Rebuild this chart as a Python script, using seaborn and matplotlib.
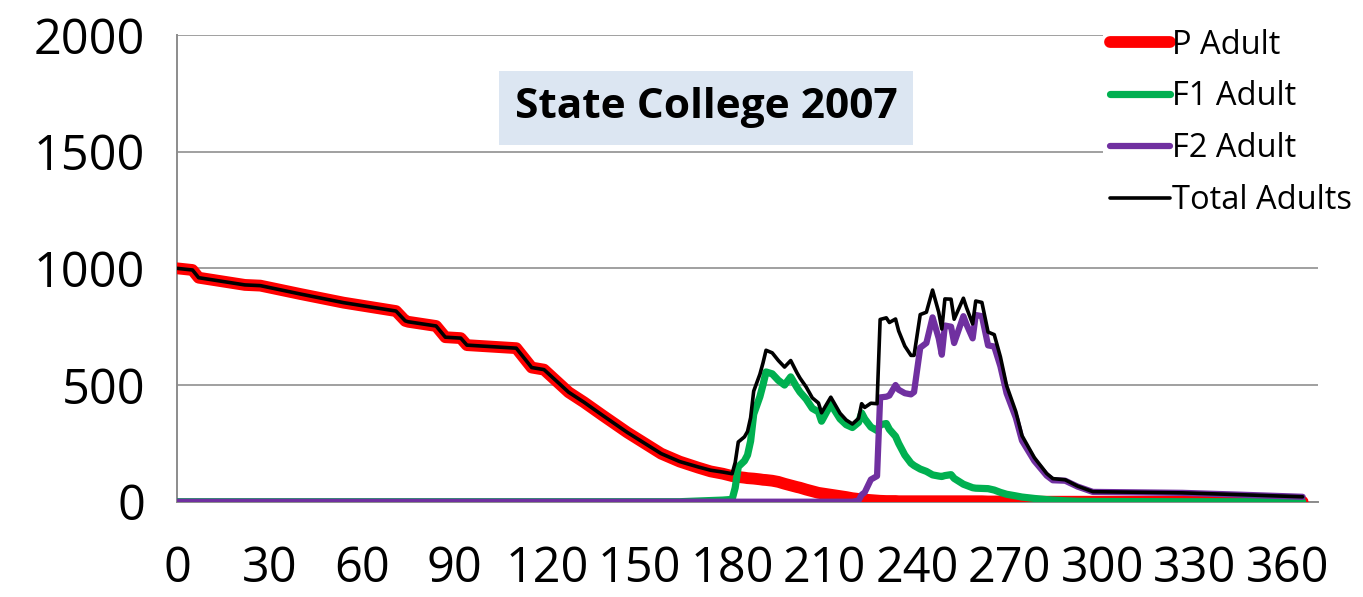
import seaborn as sns
import matplotlib.pyplot as plt
import pandas as pd
import numpy as np

# Day of year and adult counts
days = [0, 5, 7, 22, 27, 40, 54, 71, 74, 75, 84, 87, 92, 94, 110, 115, 119,
        127, 132, 138, 146, 157, 163, 169, 173, 177, 180, 181, 182, 184, 185,
        186, 187, 189, 190, 191, 193, 195, 197, 199, 201, 202, 204, 206, 208,
        209, 212, 215, 217, 219, 221, 222, 223, 225, 227, 228, 230, 231, 233,
        234, 236, 238, 239, 241, 243, 245, 247, 248, 249, 251, 252, 255, 256,
        258, 259, 261, 263, 265, 267, 269, 272, 274, 278, 282, 284, 288, 292,
        297, 326, 345, 365]

p_adult = [1000, 993, 960, 929, 926, 890, 853, 817, 775, 771, 753, 705, 701,
           671, 658, 575, 566, 469, 426, 370, 297, 206, 172, 146, 130, 120,
           110, 108, 106, 103, 101, 100, 99, 96, 94, 93, 90, 85, 77, 70, 63,
           60, 52, 45, 38, 36, 30, 24, 20, 15, 12, 10, 9, 7, 5, 4, 3, 3, 3,
           2, 2, 2, 2, 2, 2, 2, 2, 2, 2, 2, 2, 2, 2, 2, 2, 2, 1, 1, 1, 1, 1,
           1, 0, 0, 0, 0, 0, 0, 0, 0, 0]

f1_adult = [0, 0, 0, 0, 0, 0, 0, 0, 0, 0, 0, 0, 0, 0, 0, 0, 0, 0, 0, 0, 0,
            0, 0, 3, 5, 7, 10, 60, 150, 175, 200, 260, 375, 450, 500, 556,
            548, 520, 500, 535, 490, 470, 440, 400, 385, 345, 418, 355, 330,
            318, 340, 380, 355, 320, 305, 330, 335, 310, 280, 250, 200, 165,
            155, 140, 130, 115, 110, 108, 112, 116, 100, 75, 70, 60, 58, 57,
            56, 50, 40, 32, 25, 20, 14, 9, 7, 4, 2, 1, 0, 0, 0]

f2_adult = [0, 0, 0, 0, 0, 0, 0, 0, 0, 0, 0, 0, 0, 0, 0, 0, 0, 0, 0, 0, 0,
            0, 0, 0, 0, 0, 0, 0, 0, 0, 0, 0, 0, 0, 0, 0, 0, 0, 0, 0, 0, 0,
            0, 0, 0, 0, 0, 0, 0, 0, 5, 30, 40, 95, 110, 447, 450, 455, 500,
            480, 465, 460, 470, 660, 680, 790, 700, 630, 755, 750, 680, 795,
            760, 700, 800, 795, 670, 665, 580, 465, 360, 262, 175, 112, 92,
            90, 65, 42, 38, 30, 21]

df = pd.DataFrame({"Day": days, "P Adult": p_adult,
                   "F1 Adult": f1_adult, "F2 Adult": f2_adult})
df["Total Adults"] = df["P Adult"] + df["F1 Adult"] + df["F2 Adult"]

sns.set_style("white")
plt.rcParams["font.family"] = ["Open Sans", "DejaVu Sans"]
plt.rcParams["text.color"] = "black"

fig = plt.figure(figsize=(13.63, 5.97), dpi=100)
ax = fig.add_axes([0.1299, 0.1596, 0.8371, 0.7818])

series = [("P Adult", "#FF0000", 8.5),
          ("F1 Adult", "#00B050", 5.2),
          ("F2 Adult", "#7030A0", 4.5),
          ("Total Adults", "#000000", 2.6)]
for name, color, lw in series:
    sns.lineplot(data=df, x="Day", y=name, color=color, linewidth=lw,
                 label=name, ax=ax, solid_capstyle="round", zorder=3)

ax.set_xlim(0, 370)
ax.set_ylim(0, 2000)
ax.set_xticks(range(0, 361, 30))
ax.set_yticks(range(0, 2001, 500))
ax.set_xlabel("")
ax.set_ylabel("")

ax.grid(axis="y", color="#A0A0A0", linewidth=1.4)
ax.set_axisbelow(True)
for side in ["top", "right"]:
    ax.spines[side].set_visible(False)
for side in ["left", "bottom"]:
    ax.spines[side].set_color("#8C8C8C")
    ax.spines[side].set_linewidth(1.4)
ax.tick_params(axis="y", direction="out", length=14, width=1.4,
               color="#8C8C8C", labelcolor="black", labelsize=35, pad=9)
ax.tick_params(axis="x", direction="out", length=11, width=1.4,
               color="#8C8C8C", labelcolor="black", labelsize=35, pad=20)

ax.text(0.4636, 0.8436, "State College 2007", transform=ax.transAxes,
        ha="center", va="center", fontsize=30.5, fontweight="bold",
        color="black",
        bbox=dict(boxstyle="square,pad=0.38", facecolor="#DCE6F2",
                  edgecolor="none"), zorder=4)

leg = ax.legend(loc="upper left", bbox_to_anchor=(1103 / 1363, 1 - 22 / 597),
                bbox_transform=fig.transFigure, frameon=True, fontsize=23.5,
                handlelength=1.85, handletextpad=0.05, labelspacing=0.58,
                borderpad=0.2, borderaxespad=0)
leg.get_frame().set_facecolor("white")
leg.get_frame().set_edgecolor("none")
leg.get_frame().set_alpha(1)
leg.set_zorder(5)
for t in leg.get_texts():
    t.set_color("black")

fig.savefig("out.png", dpi=100)
plt.close(fig)
